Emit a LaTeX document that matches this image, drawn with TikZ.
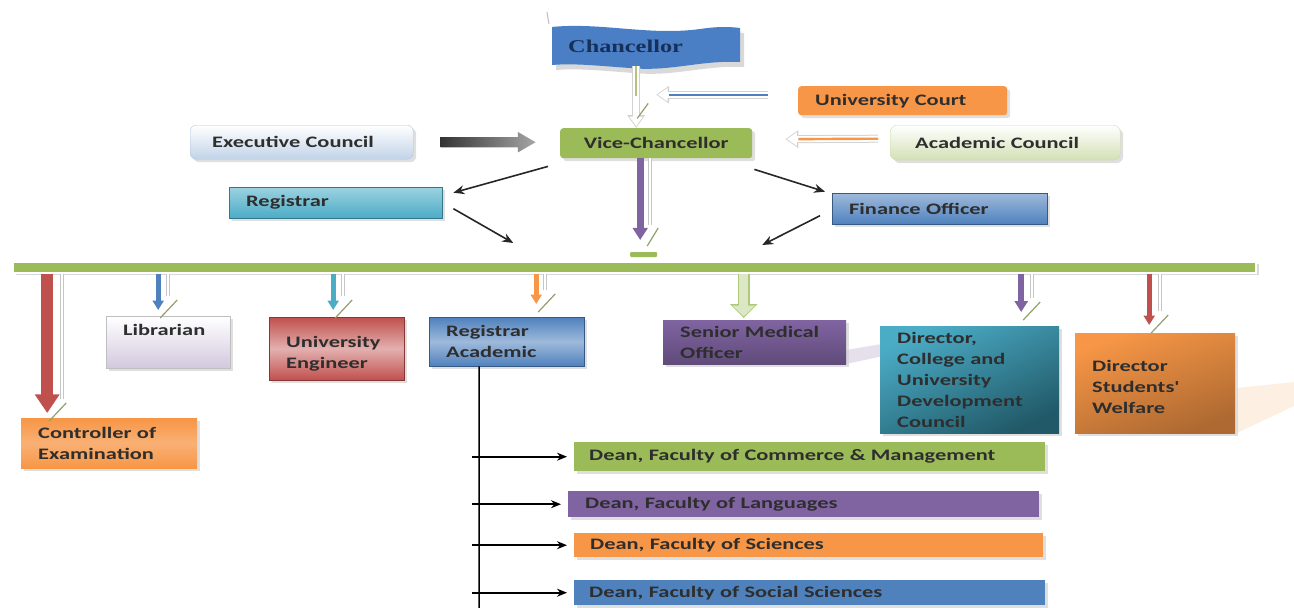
\documentclass[tikz,border=0pt]{standalone}
\usepackage{fontspec}
\newfontfamily\boxfont[FakeStretch=1.4]{Carlito}
\newfontfamily\flagfont[FakeStretch=1.35]{Liberation Serif}
\usetikzlibrary{positioning,arrows.meta,shapes.arrows,shadows}

\definecolor{cblue}{HTML}{4F81BD}
\definecolor{cred}{HTML}{C0504D}
\definecolor{cgreen}{HTML}{9BBB59}
\definecolor{cpurple}{HTML}{8064A2}
\definecolor{caqua}{HTML}{4BACC6}
\definecolor{corange}{HTML}{F79646}
\definecolor{cflag}{HTML}{4A7EC5}
\definecolor{cteal}{HTML}{215968}
\definecolor{colive}{HTML}{B5C37F}
\definecolor{ctext}{HTML}{2E2E2E}
\definecolor{cnavy}{HTML}{17305A}

\tikzset{
  unit/.style={anchor=north west, inner xsep=17pt, inner ysep=0pt, align=left,
    text=ctext, font=\boxfont\bfseries\fontsize{16}{21}\selectfont,
    drop shadow={shadow xshift=3pt, shadow yshift=-3pt, fill=black!18, opacity=0.7}},
  dean/.style={unit, inner xsep=15pt},
  link/.style={draw=black!85, line width=1.6pt, -{Stealth[length=11pt,width=9pt]}},
  deanlink/.style={draw=black, line width=1.6pt, shorten >=7pt, -{Stealth[length=10pt,width=8pt]}},
  dnarr/.style={draw=#1, -{Triangle[length=3pt 1.3,width=2pt 1.8]}},
  ghost/.style={draw=gray!45, double=white, double distance=2.5pt, line width=0.5pt},
  slash/.style={draw=cgreen!55!gray, line width=1.2pt},
  haloarr/.style={draw=#1, line width=2.4pt, shorten >=13pt,
    preaction={draw=gray!35, line width=8pt, shorten >=0pt, -{Triangle[length=13pt,width=17pt]}},
    preaction={draw=white, line width=6pt, shorten >=1.5pt, -{Triangle[length=10pt,width=13pt]}}}
}

\begin{document}
\begin{tikzpicture}[x=1pt,y=-1pt]
  \useasboundingbox (0,0) rectangle (1294,608);

  % faint shapes behind the boxes
  \fill[cpurple!20] (846,350) -- (911,339) -- (911,350) -- (846,364) -- cycle;
  \fill[corange!15] (1237,388) -- (1294,382) -- (1294,406) -- (1237,433) -- cycle;

  % Chancellor flag
  \draw[gray!50, line width=1pt] (547,12) -- (549,24);
  \fill[gray!30, shift={(4,5)}] (552,27) .. controls (600,22) and (650,36) .. (700,29)
    .. controls (720,26) and (732,27) .. (740,28) -- (740,62)
    .. controls (700,60) and (670,72) .. (630,68) .. controls (600,66) and (575,63) .. (552,65) -- cycle;
  \fill[cflag] (552,27) .. controls (600,22) and (650,36) .. (700,29)
    .. controls (720,26) and (732,27) .. (740,28) -- (740,62)
    .. controls (700,60) and (670,72) .. (630,68) .. controls (600,66) and (575,63) .. (552,65) -- cycle;
  \node[anchor=north west, minimum width=188pt, minimum height=40pt, inner xsep=16pt,
    text width=156pt, align=left, text=cnavy,
    font=\flagfont\bfseries\fontsize{18}{20}\selectfont] (chanc) at (552,26) {Chancellor};

  % top level
  \node[unit, top color=white, bottom color=cblue!35, draw=cblue!45, rounded corners=6pt,
    inner xsep=22pt, minimum width=223pt, minimum height=34pt, text width=179pt] (exec) at (190,125) {Executive Council};
  \node[unit, fill=cgreen, rounded corners=3pt, align=center, minimum width=192pt,
    minimum height=30pt, text width=158pt] (vc) at (560,128) {Vice-Chancellor};
  \node[unit, fill=corange, rounded corners=3pt, minimum width=209pt, minimum height=29pt,
    text width=175pt] (ucourt) at (798,86) {University Court};
  \node[unit, top color=white, bottom color=cgreen!45, draw=cgreen!50, rounded corners=7pt,
    inner xsep=25pt, minimum width=230pt, minimum height=35pt, text width=180pt] (acad) at (890,125) {Academic Council};
  \node[unit, top color=caqua!55, bottom color=caqua, draw=caqua!70!black, minimum width=213pt,
    minimum height=31pt, text width=179pt] (reg) at (229,187) {Registrar};
  \node[unit, top color=cblue!55, bottom color=cblue, draw=cblue!70!black, minimum width=215pt,
    minimum height=31pt, text width=181pt] (fin) at (832,193) {Finance Officer};

  % the bar
  \node[anchor=north west, fill=cgreen, draw=white, line width=1.5pt, inner sep=0pt,
    minimum width=1243pt, minimum height=11pt,
    drop shadow={shadow xshift=3pt, shadow yshift=-2pt, fill=black!25, opacity=0.6}] (bar) at (12,261) {};

  % second level
  \node[unit, top color=white, bottom color=cpurple!35, draw=gray!50, minimum width=124pt,
    minimum height=52pt, text width=90pt, text depth=24pt] (lib) at (106,316) {Librarian};
  \node[unit, top color=cred, bottom color=cred, middle color=cred!45, draw=cred!70!black,
    minimum width=135pt, minimum height=63pt, text width=101pt, text depth=14pt] (eng) at (269,317) {University\\Engineer};
  \node[unit, top color=cblue, bottom color=cblue, middle color=cblue!55, draw=cblue!70!black,
    minimum width=155pt, minimum height=49pt, text width=121pt] (regac) at (429,317) {Registrar\\Academic};
  \node[unit, top color=cpurple, bottom color=cpurple!75!black, minimum width=183pt,
    minimum height=44pt, text width=149pt] (smo) at (663,320) {Senior Medical\\Officer};
  \node[unit, top color=caqua, bottom color=cteal, shading angle=25, minimum width=179pt,
    minimum height=107pt, text width=145pt, inner xsep=15pt] (dcoll) at (880,326) {Director,\\College and\\University\\Development\\Council};
  \node[unit, top color=corange, bottom color=corange!70!black, shading angle=20, minimum width=160pt,
    minimum height=100pt, text width=126pt, text depth=34pt] (dsw) at (1075,333) {Director\\Students'\\Welfare};
  \node[unit, top color=corange, bottom color=corange, middle color=corange!75, minimum width=176pt,
    minimum height=50pt, text width=142pt] (ctrl) at (21,418) {Controller of\\Examination};

  % deans
  \node[dean, fill=cgreen, minimum width=471pt, minimum height=29pt, text width=441pt] (cdean) at (574,442) {Dean, Faculty of Commerce \& Management};
  \node[dean, fill=cpurple, inner xsep=17pt, minimum width=471pt, minimum height=26pt, text width=437pt] (ldean) at (568,491) {Dean, Faculty of Languages};
  \node[dean, fill=corange, inner xsep=16pt, minimum width=469pt, minimum height=24pt, text width=437pt] (sdean) at (574,533) {Dean, Faculty of Sciences};
  \node[dean, fill=cblue, minimum width=471pt, minimum height=25pt, text width=441pt] (ssdean) at (574,580) {Dean, Faculty of Social Sciences};

  % arrows into the Vice-Chancellor
  \node[single arrow, right=27pt of exec, left color=black!80, right color=black!35,
    minimum height=95pt, inner xsep=0pt, inner ysep=5pt, single arrow head extend=5pt,
    single arrow tip angle=60] (execarr) {};
  \draw[haloarr=colive, shorten >=32pt] ([xshift=-10pt]chanc.south) -- ([xshift=-10pt]chanc.south |- vc.north);
  \draw[slash] ([xshift=-9pt,yshift=-52pt]chanc.south) -- ([xshift=2pt,yshift=-37pt]chanc.south);
  \draw[haloarr=cblue] ([xshift=-30pt,yshift=6pt]ucourt.west) -- ([yshift=6pt]ucourt.west -| vc.north);
  \draw[haloarr=corange] ([xshift=-12pt,yshift=4pt]acad.west) -- ([xshift=33pt,yshift=4pt]vc.east);

  % Vice-Chancellor, Registrar and Finance Officer to the bar
  \draw[link] ([xshift=-12pt,yshift=-8pt]vc.south west) -- ([xshift=11pt,yshift=10pt]reg.east);
  \draw[link] ([xshift=2pt,yshift=-11pt]vc.south east) -- ([xshift=-7pt,yshift=17pt]fin.west);
  \draw[link] ([xshift=11pt,yshift=-6pt]reg.east) -- ([xshift=-121pt,yshift=18pt]bar.north);
  \draw[link] ([xshift=-12pt,yshift=-7pt]fin.west) -- ([xshift=128pt,yshift=16pt]bar.north);

  \coordinate (vctip) at ([xshift=-16pt]vc.south |- bar.north);
  \draw[ghost, shorten >=36pt] ([xshift=-6pt]vc.south) -- ([xshift=10pt]vctip);
  \draw[dnarr=cpurple, line width=7pt, shorten >=21pt] ([xshift=-16pt]vc.south) -- (vctip);
  \draw[slash] ([shift={(7,-15)}]vctip) -- ([shift={(18,-33)}]vctip);
  \fill[cgreen, rounded corners=1pt] ([shift={(-10,-9)}]vctip) rectangle ([shift={(17,-4)}]vctip);

  % bar to the units
  \foreach \tgt/\col/\dx/\gap/\lw/\gx in {ctrl/cred/-62/5/12/15, lib/cblue/-10/6/5/10,
      eng/caqua/-3.5/7/5/10, regac/corange/29.5/13/5/9, dcoll/cpurple/51.5/14/6/11, dsw/cred/-6/8/5/11}
  {
    \coordinate (tip) at ([xshift=\dx pt, yshift=\gap pt]\tgt.north);
    \draw[ghost] ([xshift=\gx pt]tip |- bar.south) -- ([shift={(\gx,-14)}]tip);
    \draw[dnarr=\col, line width=\lw pt] (tip |- bar.south) -- (tip);
    \draw[slash] ([shift={(2,8)}]tip) -- ([shift={(19,-10)}]tip);
  }
  \coordinate (smotip) at ([xshift=-11pt, yshift=2pt]smo.north);
  \draw[draw=cgreen!80, line width=12pt, -{Triangle[length=14pt,width=27pt]}] (smotip |- bar.south) -- (smotip);
  \draw[draw=cgreen!35, line width=9pt, shorten >=1.5pt, -{Triangle[length=11pt,width=22pt]}] (smotip |- bar.south) -- (smotip);

  % Registrar Academic to the deans
  \coordinate (rtop) at ([xshift=-27.5pt]regac.south);
  \coordinate (rbot) at (479,608);
  \draw[line width=1.5pt] (rtop) -- (rbot);
  \foreach \d in {cdean,ldean,sdean,ssdean}
    \draw[deanlink] ([xshift=-7pt]rtop |- \d.west) -- (\d.west);
\end{tikzpicture}
\end{document}
